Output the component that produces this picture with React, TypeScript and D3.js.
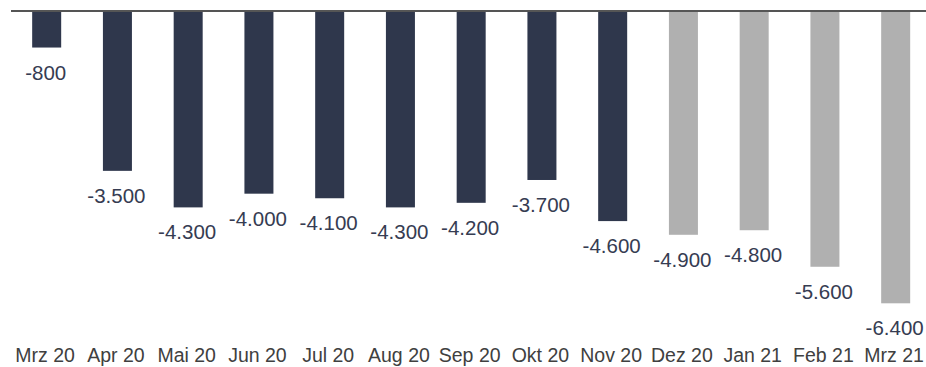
import React from "react";
import * as d3 from "d3";

const categories = ["Mrz 20", "Apr 20", "Mai 20", "Jun 20", "Jul 20", "Aug 20", "Sep 20", "Okt 20", "Nov 20", "Dez 20", "Jan 21", "Feb 21", "Mrz 21"];
const values = [-800, -3500, -4300, -4000, -4100, -4300, -4200, -3700, -4600, -4900, -4800, -5600, -6400];
const isForecast = [false, false, false, false, false, false, false, false, false, true, true, true, true];
const valueLabels = ["-800", "-3.500", "-4.300", "-4.000", "-4.100", "-4.300", "-4.200", "-3.700", "-4.600", "-4.900", "-4.800", "-5.600", "-6.400"];

const W = 926;
const H = 367;
const FONT = "'Liberation Sans', Arial, sans-serif";

export default function App() {
  const x = d3
    .scaleBand<string>()
    .domain(categories)
    .range([11.3, 11.3 + 13 * 70.75])
    .paddingInner(0.59)
    .paddingOuter(0.295);
  const y = d3.scaleLinear().domain([0, -6400]).range([11, 303.3]);
  const bw = x.bandwidth();

  return (
    <svg
      width={W}
      height={H}
      style={{ position: "absolute", left: 0, top: 0, background: "#fff" }}
      fontFamily={FONT}
    >
      {categories.map((c, i) => {
        const v = values[i];
        const x0 = x(c)!;
        const y0 = y(0);
        const y1 = y(v);
        return (
          <g key={c}>
            <rect
              x={x0}
              y={y0}
              width={bw}
              height={y1 - y0}
              fill={isForecast[i] ? "#b0b0b0" : "#2f374c"}
            />
            <text
              x={x0 + bw / 2 - 1}
              y={y1 + 32}
              textAnchor="middle"
              fontSize={20.5}
              fill="#363c52"
            >
              {valueLabels[i]}
            </text>
            <text
              x={x0 + bw / 2 - 1.5}
              y={361.5}
              textAnchor="middle"
              fontSize={19.5}
              fill="#404040"
            >
              {c}
            </text>
          </g>
        );
      })}
      <line x1={11} x2={W} y1={y(0)} y2={y(0)} stroke="#555" strokeWidth={2} />
    </svg>
  );
}
